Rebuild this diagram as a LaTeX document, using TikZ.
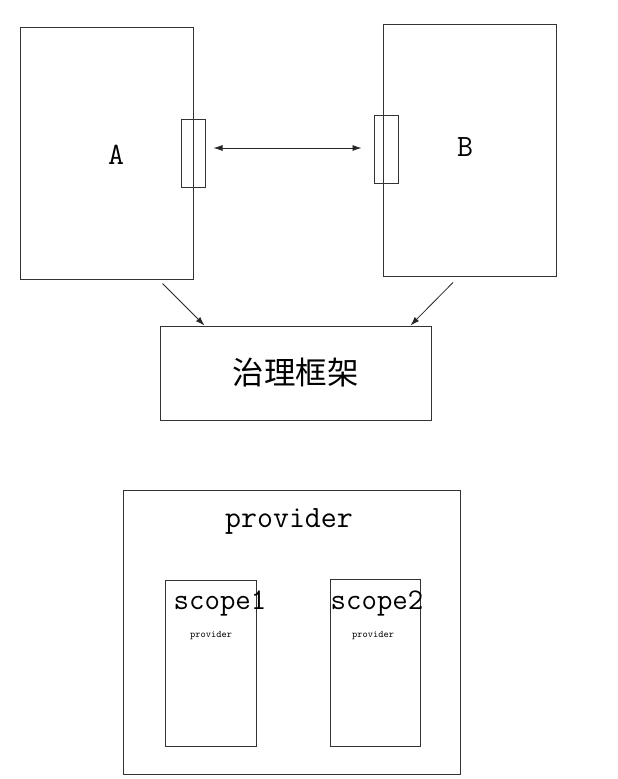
\documentclass[tikz,border=0pt]{standalone}
\usepackage{fontspec}
\newfontfamily\cjk{Noto Sans CJK SC}
\usetikzlibrary{arrows.meta}
\tikzset{
  box/.style={draw=black!80, line width=1pt, inner sep=0pt},
  link/.style={black!85, line width=0.8pt, -{Latex[length=9pt,width=6pt]}},
  txt/.style={font=\ttfamily\fontsize{#1}{#1}\selectfont, inner sep=0pt},
}
\begin{document}
\begin{tikzpicture}[x=1pt, y=-1pt]
\useasboundingbox (0,0) rectangle (618,779);
% upper part
\node[box, minimum width=173pt, minimum height=252pt] (A) at (106.5,153) {};
\node[box, minimum width=173pt, minimum height=252pt] (B) at (469.5,150) {};
\node[box, minimum width=24pt, minimum height=68pt] (portA) at (193,153) {};
\node[box, minimum width=24pt, minimum height=68pt] (portB) at (386,149) {};
\node[txt=31] (labA) at (116,155) {A};
\node[txt=31] (labB) at (465,147) {B};
\node[box, minimum width=271pt, minimum height=94pt, font=\cjk\fontsize{31.5}{34}\selectfont] (gov) at (295.5,373) {治理框架};
\draw[link, {Latex[length=9pt,width=6pt]}-{Latex[length=9pt,width=6pt]}, shorten <=8pt, shorten >=12pt] ([yshift=5pt]portA.east) -- ([yshift=1pt]portB.west);
\draw[link] ([xshift=-31pt,yshift=-4pt]A.south east) -- ([xshift=45pt]gov.north west);
\draw[link] ([xshift=-16.5pt,yshift=-6pt]B.south) -- ([xshift=-21pt]gov.north east);
% lower part
\node[box, minimum width=337pt, minimum height=284pt] (prov) at (291.5,632) {};
\node[txt=31] (provtxt) at (289,521) {provider};
\node[box, minimum width=91pt, minimum height=166pt] (scope1) at (210.5,663) {};
\node[box, minimum width=90pt, minimum height=167pt] (scope2) at (375,662.5) {};
\node[txt=30] (s1txt) at (220,603) {scope1};
\node[txt=30] (s2txt) at (377,603) {scope2};
\node[txt=10] (p1txt) at (211,636) {provider};
\node[txt=10] (p2txt) at (373,636) {provider};
\end{tikzpicture}
\end{document}
